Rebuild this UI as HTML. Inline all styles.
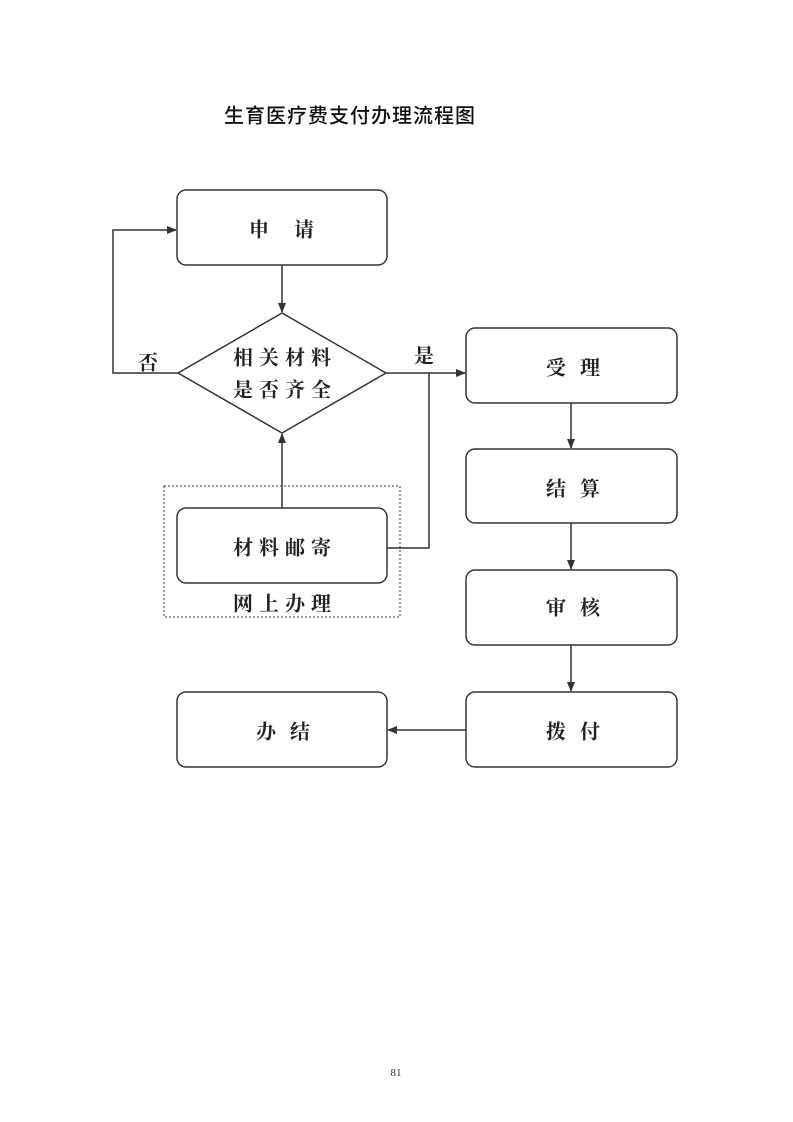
<!DOCTYPE html>
<html><head><meta charset="utf-8"><style>
html,body{margin:0;padding:0;background:#fff;}
svg{display:block}
.t{font-family:"Noto Serif CJK SC","Liberation Serif",serif;font-weight:bold;font-size:20px;fill:#222;text-anchor:middle;dominant-baseline:central}
</style></head><body>
<svg width="793" height="1122" viewBox="0 0 793 1122" xmlns="http://www.w3.org/2000/svg">
<defs><marker id="a" markerWidth="10" markerHeight="8" refX="9" refY="4" orient="auto" markerUnits="userSpaceOnUse"><path d="M0,0 L10,4 L0,8 Z" fill="#333"/></marker></defs>
<text x="350" y="114" font-family="'Noto Sans CJK SC',sans-serif" font-size="20" font-weight="500" letter-spacing="1" text-anchor="middle" dominant-baseline="central" fill="#111">生育医疗费支付办理流程图</text>
<g fill="none" stroke="#333" stroke-width="1.5">
<rect x="177" y="190" width="210" height="75" rx="9"/>
<polygon points="178,373 282,313 386,373 282,433"/>
<rect x="164" y="486" width="236" height="131" stroke-dasharray="2,2" stroke-width="1"/>
<rect x="177" y="508" width="210" height="75" rx="9"/>
<rect x="466" y="328" width="211" height="75" rx="9"/>
<rect x="466" y="449" width="211" height="74" rx="9"/>
<rect x="466" y="570" width="211" height="75" rx="9"/>
<rect x="466" y="692" width="211" height="75" rx="9"/>
<rect x="177" y="692" width="210" height="75" rx="9"/>
<line x1="282" y1="265" x2="282" y2="312" marker-end="url(#a)"/>
<polyline points="178,373 113,373 113,230 176,230" marker-end="url(#a)"/>
<line x1="386" y1="373" x2="465" y2="373" marker-end="url(#a)"/>
<polyline points="387,548 429,548 429,373"/>
<line x1="282" y1="508" x2="282" y2="434" marker-end="url(#a)"/>
<line x1="571" y1="403" x2="571" y2="448" marker-end="url(#a)"/>
<line x1="571" y1="523" x2="571" y2="569" marker-end="url(#a)"/>
<line x1="571" y1="645" x2="571" y2="691" marker-end="url(#a)"/>
<line x1="466" y1="730" x2="388" y2="730" marker-end="url(#a)"/>
</g>
<text class="t" x="294" y="228" letter-spacing="25">申请</text>
<text class="t" x="285" y="356" letter-spacing="6">相关材料</text>
<text class="t" x="285" y="388" letter-spacing="6">是否齐全</text>
<text class="t" x="148" y="361">否</text>
<text class="t" x="424" y="354">是</text>
<text class="t" x="285" y="546" letter-spacing="6">材料邮寄</text>
<text class="t" x="285" y="602" letter-spacing="6">网上办理</text>
<text class="t" x="580" y="366" letter-spacing="14">受理</text>
<text class="t" x="580" y="487" letter-spacing="14">结算</text>
<text class="t" x="580" y="606" letter-spacing="14">审核</text>
<text class="t" x="580" y="730" letter-spacing="14">拨付</text>
<text class="t" x="290" y="730" letter-spacing="14">办结</text>
<text x="396" y="1073" font-family="'Liberation Serif',serif" font-size="11" text-anchor="middle" dominant-baseline="central" fill="#333">81</text>
</svg>
</body></html>
